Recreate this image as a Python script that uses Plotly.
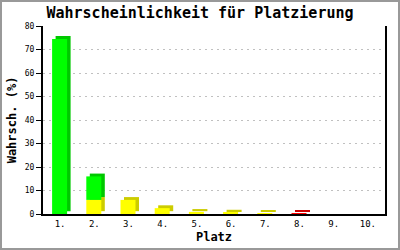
import plotly.graph_objects as go

categories = ["1.", "2.", "3.", "4.", "5.", "6.", "7.", "8.", "9.", "10."]
yellow_vals = [0, 6.0, 6.0, 2.5, 0.9, 0.6, 0.25, 0, 0, 0]
green_vals = [74.5, 10.0, 0, 0, 0, 0, 0, 0, 0, 0]
red_vals = [0, 0, 0, 0, 0, 0, 0, 0.25, 0, 0]

W, H = 400, 250
ML, MR, MT, MB = 43, 15, 26, 36
PW, PH = W - ML - MR, H - MT - MB

cat_px = PW / len(categories)
bar_w = 15 / cat_px
front_off = -8 / cat_px
depth_x = 3.5 / cat_px
depth_y = 1.2  # in data units (~3px)

xs = list(range(len(categories)))
yellow_base = [0] * len(categories)
green_base = [y for y in yellow_vals]
red_base = [y + g for y, g in zip(yellow_vals, green_vals)]

fig = go.Figure()

segments = [
    (yellow_vals, yellow_base, "#ffff00", "#cccc00"),
    (green_vals, green_base, "#00ff00", "#00c800"),
    (red_vals, red_base, "#ff0000", "#cc0000"),
]

# side/top (depth) faces first
for vals, base, front, side in segments:
    fig.add_trace(go.Bar(
        x=xs, y=vals, base=[b + depth_y for b in base],
        width=bar_w, offset=front_off + depth_x,
        marker=dict(color=side, line=dict(width=0)),
        hoverinfo="skip", showlegend=False,
    ))
# front faces
for vals, base, front, side in segments:
    fig.add_trace(go.Bar(
        x=xs, y=vals, base=base,
        width=bar_w, offset=front_off,
        marker=dict(color=front, line=dict(width=0)),
        showlegend=False,
    ))

font_mono = "DejaVu Sans Mono, Liberation Mono, monospace"

fig.update_layout(
    template="none",
    width=W, height=H,
    margin=dict(l=ML, r=MR, t=MT, b=MB, pad=0, autoexpand=False),
    barmode="overlay",
    paper_bgcolor="white", plot_bgcolor="white",
    title=dict(text="<b>Wahrscheinlichkeit für Platzierung</b>",
               x=0.5, xanchor="center", y=1 - 13 / H, yanchor="middle",
               font=dict(family=font_mono, size=15, color="black")),
    xaxis=dict(
        automargin=False,
        tickmode="array", tickvals=xs, ticktext=categories,
        range=[-0.5, len(categories) - 0.5],
        showgrid=False, zeroline=False,
        showline=True, linecolor="black", linewidth=2,
        ticks="", tickfont=dict(family=font_mono, size=9, color="black"),
        title=dict(text="<b>Platz</b>", standoff=5,
                   font=dict(family=font_mono, size=12, color="black")),
    ),
    yaxis=dict(
        automargin=False,
        range=[0, 80], dtick=10, tick0=0,
        showgrid=True, gridcolor="#c0c0c0", griddash="2px,4px", gridwidth=1,
        zeroline=False,
        showline=True, linecolor="black", linewidth=2, mirror=True,
        ticks="outside", ticklen=5, tickwidth=1, tickcolor="black",
        tickfont=dict(family=font_mono, size=8, color="black"),
        title=dict(text="<b>Wahrsch. (%)</b>", standoff=6,
                   font=dict(family=font_mono, size=12, color="black")),
    ),
    shapes=[dict(
        type="rect", xref="paper", yref="paper",
        x0=-(ML - 1) / PW, x1=1 + (MR - 1) / PW,
        y0=-(MB - 1) / PH, y1=1 + (MT - 1) / PH,
        line=dict(color="#999999", width=2), fillcolor="rgba(0,0,0,0)",
        layer="above",
    )],
)

fig.write_html("out.html")
